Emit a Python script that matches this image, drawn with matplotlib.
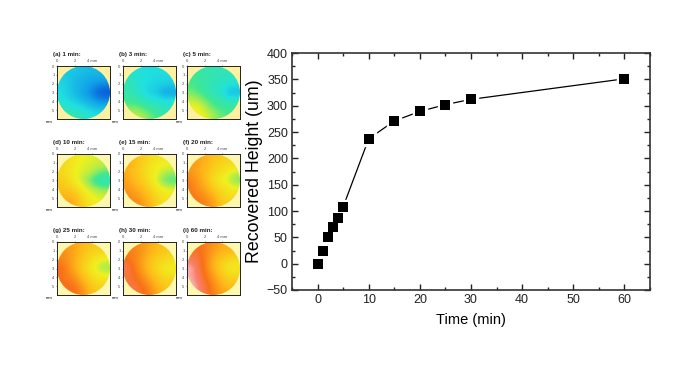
"""
plot.py

Recovered height against time, with the nine surface height maps on the left.
"""

import numpy as np
import matplotlib
matplotlib.use("Agg")
import matplotlib.pyplot as plt
from matplotlib.colors import LinearSegmentedColormap
from matplotlib.patches import Circle
from matplotlib.ticker import MultipleLocator

plt.rcParams["font.family"] = ["Liberation Sans", "DejaVu Sans"]

# Main curve
times = [0, 1, 2, 3, 4, 5, 10, 15, 20, 25, 30, 60]
heights = [0, 25, 50, 70, 86, 108, 237, 271, 289, 302, 312, 351]

x_ticks = [0, 10, 20, 30, 40, 50, 60]
y_ticks = [-50, 0, 50, 100, 150, 200, 250, 300, 350, 400]

# Height maps, coarse readings of the colour (0 = deep blue, 1 = pale pink)
panel_labels = ["(a) 1 min:", "(b) 3 min:", "(c) 5 min:",
                "(d) 10 min:", "(e) 15 min:", "(f) 20 min:",
                "(g) 25 min:", "(h) 30 min:", "(i) 60 min:"]

map_a = [[.20, .20, .20, .19, .18, .18, .18],
         [.22, .20, .18, .16, .15, .15, .15],
         [.24, .21, .17, .15, .12, .09, .08],
         [.25, .21, .17, .13, .09, .02, .00],
         [.26, .24, .20, .17, .13, .09, .08],
         [.30, .28, .27, .24, .20, .18, .18],
         [.35, .35, .33, .30, .27, .25, .25]]
map_b = [[.28, .26, .25, .25, .25, .25, .25],
         [.32, .28, .26, .25, .24, .24, .24],
         [.33, .29, .26, .24, .22, .22, .20],
         [.34, .31, .27, .22, .20, .12, .12],
         [.37, .35, .32, .28, .27, .25, .26],
         [.42, .43, .40, .36, .33, .30, .30],
         [.46, .47, .46, .42, .38, .34, .34]]
map_c = [[.36, .34, .33, .32, .32, .32, .32],
         [.38, .36, .34, .33, .31, .31, .31],
         [.39, .37, .34, .31, .29, .27, .24],
         [.42, .39, .35, .31, .28, .17, .17],
         [.47, .46, .41, .36, .33, .30, .30],
         [.50, .50, .46, .41, .38, .36, .36],
         [.51, .51, .49, .45, .41, .39, .39]]
map_d = [[.58, .55, .52, .50, .49, .48, .48],
         [.57, .54, .50, .49, .48, .47, .46],
         [.56, .54, .50, .48, .46, .42, .38],
         [.60, .56, .50, .46, .40, .30, .30],
         [.62, .60, .56, .50, .47, .44, .42],
         [.65, .66, .62, .54, .50, .48, .48],
         [.68, .70, .66, .58, .52, .50, .50]]
map_e = [[.68, .64, .60, .56, .54, .52, .52],
         [.68, .63, .58, .54, .50, .50, .50],
         [.67, .62, .58, .53, .50, .46, .44],
         [.70, .64, .60, .54, .48, .40, .38],
         [.72, .68, .64, .58, .52, .50, .48],
         [.74, .72, .68, .62, .56, .52, .52],
         [.76, .75, .72, .66, .58, .54, .54]]
map_f = [[.72, .70, .66, .62, .60, .58, .58],
         [.72, .68, .65, .60, .57, .55, .55],
         [.72, .68, .64, .57, .54, .50, .46],
         [.76, .70, .64, .55, .51, .47, .42],
         [.78, .72, .68, .60, .55, .53, .50],
         [.78, .76, .72, .66, .58, .55, .55],
         [.80, .78, .76, .70, .62, .58, .58]]
map_g = [[.72, .70, .68, .64, .62, .60, .60],
         [.74, .72, .68, .62, .58, .56, .56],
         [.76, .72, .66, .60, .55, .50, .48],
         [.82, .74, .66, .58, .52, .46, .44],
         [.80, .76, .70, .62, .55, .52, .50],
         [.80, .80, .76, .68, .60, .56, .56],
         [.82, .82, .80, .72, .64, .60, .60]]
map_h = [[.76, .74, .72, .68, .65, .62, .62],
         [.78, .76, .72, .66, .62, .60, .58],
         [.80, .76, .70, .64, .58, .56, .54],
         [.88, .78, .70, .62, .56, .52, .50],
         [.84, .80, .74, .66, .60, .55, .54],
         [.84, .84, .78, .72, .64, .60, .60],
         [.86, .86, .82, .76, .68, .62, .62]]
map_i = [[.80, .80, .76, .72, .68, .66, .66],
         [.84, .82, .76, .70, .66, .64, .62],
         [.88, .84, .76, .66, .60, .56, .54],
         [.96, .86, .76, .66, .58, .52, .52],
         [.94, .88, .78, .70, .62, .56, .56],
         [.96, .90, .82, .74, .66, .62, .62],
         [.98, .92, .84, .76, .70, .66, .66]]
maps = [map_a, map_b, map_c, map_d, map_e, map_f, map_g, map_h, map_i]

W, H = 700, 376

cmap = LinearSegmentedColormap.from_list("height", [
    (0.00, "#0a50d8"), (0.12, "#10a0e8"), (0.25, "#20e0e0"),
    (0.38, "#40e890"), (0.50, "#f0f020"), (0.65, "#ffb818"),
    (0.80, "#f87018"), (0.90, "#f88070"), (1.00, "#fde8e8")])


def px_axes(fig, left, top, right, bottom):
    """Add an axes given by its edges in pixels of the picture."""
    return fig.add_axes([left / W, 1 - bottom / H,
                         (right - left) / W, (bottom - top) / H])


fig = plt.figure(figsize=(W / 100, H / 100), dpi=100)

# Height maps, 3 x 3
lefts = [57, 123, 187]
tops = [66, 154, 242]
backs = ["#fdf0a0", "#fdf6b0", "#fdf8b0"]
size = 53
for n, (grid, label) in enumerate(zip(maps, panel_labels)):
    left = lefts[n % 3]
    top = tops[n // 3]
    ax = px_axes(fig, left, top, left + size, top + size)
    ax.set_facecolor(backs[n // 3])
    im = ax.imshow(grid, cmap=cmap, vmin=0, vmax=1, extent=(0, 6, 6, 0),
                   interpolation="bicubic", aspect="auto")
    im.set_clip_path(Circle((3, 3), 3, transform=ax.transData))
    ax.set_xlim(0, 6)
    ax.set_ylim(6, 0)
    ax.xaxis.tick_top()
    ax.set_xticks([0, 2, 4], ["0", "2", "4 mm"])
    ax.set_yticks([0, 1, 2, 3, 4, 5])
    ax.tick_params(length=1, width=0.4, labelsize=3, pad=0.8, colors="#444444")
    for s in ax.spines.values():
        s.set_linestyle((0, (1, 1)))
        s.set_linewidth(0.7)
        s.set_color("#222222")
    ax.text(-0.08, 1.22, label, transform=ax.transAxes, fontsize=4.5,
            fontweight="bold", va="center", color="#222222")
    ax.text(-0.22, -0.05, "mm", transform=ax.transAxes, fontsize=3, va="center")

# Main plot
ax = px_axes(fig, 292, 53, 650, 290)
# White squares under the black ones leave the gap around each marker
ax.plot(times, heights, color="black", lw=0.9, marker="s", ms=10,
        mfc="white", mec="white", zorder=2)
ax.plot(times, heights, ls="none", marker="s", ms=6.6, color="black",
        mew=0, zorder=3)
ax.set_xlim(-5, 65)
ax.set_ylim(-50, 400)
ax.set_xticks(x_ticks)
ax.set_yticks(y_ticks)
ax.xaxis.set_minor_locator(MultipleLocator(5))
ax.yaxis.set_minor_locator(MultipleLocator(25))
ax.tick_params(which="major", direction="in", top=True, right=True,
               length=4.5, width=1, labelsize=9, pad=3, colors="#222222")
ax.tick_params(which="minor", direction="in", top=True, right=True,
               length=2.5, width=1, colors="#222222")
for s in ax.spines.values():
    s.set_linewidth(1.2)
    s.set_color("#333333")
ax.set_xlabel("Time (min)", fontsize=10.5, labelpad=5)
ax.set_ylabel("Recovered Height (um)", fontsize=12.8)
ax.yaxis.set_label_coords((263 - 292) / 358, 0.5)

fig.savefig("out.png", dpi=100)
